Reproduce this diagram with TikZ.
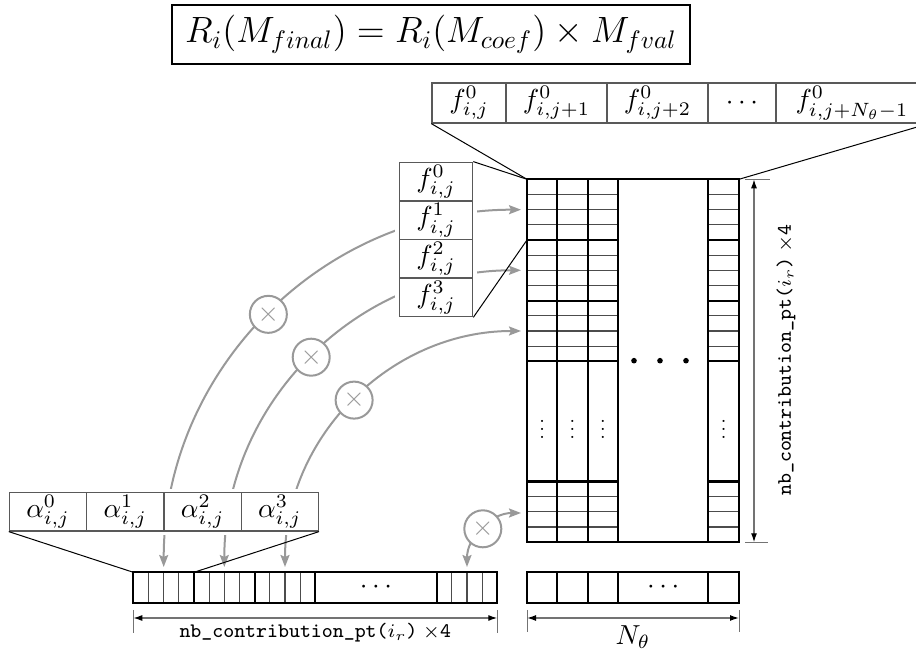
\documentclass[tikz,border=0pt]{standalone}
\usepackage{graphicx}
\usetikzlibrary{arrows.meta,calc}
\newcommand{\bigt}[1]{\scalebox{2.75}{#1}}
\newcommand{\labtext}{\scalebox{2.75}{\fontsize{7.5}{9}\selectfont\ttfamily nb\_contribution\_pt(\rmfamily$i_r$\ttfamily)\hspace{2pt}$\times$4}}
\begin{document}
\begin{tikzpicture}[x=1pt,y=1pt,
  cellbox/.style={draw=black!65, line width=1.3pt, inner sep=0pt},
  thickline/.style={line width=2.2pt, black},
  thinline/.style={line width=1.2pt, black!70},
  funnel/.style={line width=1pt, black},
  arcarrow/.style={line width=2pt, black!40, {Stealth[length=12pt,width=9pt,inset=2pt]}-{Stealth[length=12pt,width=9pt,inset=2pt]}},
  otimes/.style={circle, draw=black!40, line width=2pt, fill=white, minimum size=37pt, inner sep=0pt, text=black!40},
  dimarrow/.style={line width=1.3pt, black!55, {Latex[length=9pt,width=6pt,black]}-{Latex[length=9pt,width=6pt,black]}},
  dimtick/.style={line width=1pt, black!55}
]
\useasboundingbox (0,0) rectangle (916,652);

% ---------- gray arcs (drawn first, boxes cover them) ----------
\coordinate (ac) at (521,85);
\coordinate (s1) at (163.7,85);
\coordinate (s2) at (224.3,85);
\coordinate (s3) at (285,85);
\coordinate (s4) at (467,85);
\draw[arcarrow] (s1) arc[start angle=180, end angle=90, radius=357.3pt];
\draw[arcarrow] (s2) arc[start angle=180, end angle=90, radius=296.7pt];
\draw[arcarrow] (s3) arc[start angle=180, end angle=90, radius=236pt];
\draw[arcarrow] (s4) arc[start angle=180, end angle=90, radius=54pt];

% ---------- alpha box ----------
\fill[white] (5.3,163.3) rectangle (322.3,117);
\node[cellbox, minimum width=77.25pt, minimum height=38.3pt] (a0) at (48,140.2) {\bigt{$\alpha^{0}_{i,j}$}};
\node[cellbox, minimum width=77.25pt, minimum height=38.3pt] (a1) at (125.3,140.2) {\bigt{$\alpha^{1}_{i,j}$}};
\node[cellbox, minimum width=77.25pt, minimum height=38.3pt] (a2) at (202.6,140.2) {\bigt{$\alpha^{2}_{i,j}$}};
\node[cellbox, minimum width=77.25pt, minimum height=38.3pt] (a3) at (279.8,140.2) {\bigt{$\alpha^{3}_{i,j}$}};

% ---------- f column ----------
\fill[white] (395.3,493.7) rectangle (476.7,331.3);
\node[cellbox, minimum width=73.4pt, minimum height=38.6pt] (f0) at (436,470.4) {\bigt{$f^{0}_{i,j}$}};
\node[cellbox, minimum width=73.4pt, minimum height=38.6pt] (f1) at (436,431.8) {\bigt{$f^{1}_{i,j}$}};
\node[cellbox, minimum width=73.4pt, minimum height=38.6pt] (f2) at (436,393.2) {\bigt{$f^{2}_{i,j}$}};
\node[cellbox, minimum width=73.4pt, minimum height=38.6pt] (f3) at (436,354.6) {\bigt{$f^{3}_{i,j}$}};

% ---------- multiplication circles ----------
\node[otimes] (x1) at ($(ac)+(135:357.3pt)$) {\bigt{$\times$}};
\node[otimes] (x2) at ($(ac)+(135:296.7pt)$) {\bigt{$\times$}};
\node[otimes] (x3) at ($(ac)+(135:236pt)$) {\bigt{$\times$}};
\node[otimes] (x4) at ($(ac)+(135:54pt)$) {\bigt{$\times$}};

% ---------- formula ----------
\node[draw, line width=1.4pt, inner sep=0pt, minimum width=518pt, minimum height=59pt] (eq) at (431,617.5)
  {\scalebox{2.54}{\Large $R_i(M_{final}) = R_i(M_{coef}) \times M_{fval}$}};

% ---------- top row ----------
\node[cellbox, minimum width=74pt, minimum height=40pt] (t1) at (469,549) {\bigt{$f^{0}_{i,j}$}};
\node[cellbox, minimum width=101pt, minimum height=40pt] (t2) at (556.5,549) {\bigt{$f^{0}_{i,j+1}$}};
\node[cellbox, minimum width=101pt, minimum height=40pt] (t3) at (657.5,549) {\bigt{$f^{0}_{i,j+2}$}};
\node[cellbox, minimum width=68pt, minimum height=40pt] (t4) at (742,549) {\bigt{$\cdots$}};
\node[cellbox, minimum width=152pt, minimum height=40pt] (t5) at (852,549) {\bigt{$f^{0}_{i,j+N_\theta-1}$}};

% ---------- matrix ----------
\coordinate (mtl) at (527,472.7);
\coordinate (mtr) at (739,472.7);
\coordinate (mb1) at (527,412);
\foreach \yy in {457.5,442.4,427.2, 396.8,381.7,366.5, 336.1,321.0,305.8, 155.2,140.1,124.9}{
  \draw[thinline] (527,\yy) -- (618,\yy);
  \draw[thinline] (708.3,\yy) -- (739,\yy);
}
\foreach \yy in {412,351.3,290.6,170.4}{
  \draw[thickline] (527,\yy) -- (618,\yy);
  \draw[thickline] (708.3,\yy) -- (739,\yy);
}
\foreach \xx in {557.3,587.7,618,708.3}{
  \draw[thickline] (\xx,109.7) -- (\xx,472.7);
}
\draw[thickline] (mtl) rectangle (739,109.7);
\fill (634,291.3) circle (2.8pt) (660,291.3) circle (2.8pt) (686,291.3) circle (2.8pt);
\foreach \xx/\nm in {542.2/d1,572.5/d2,602.9/d3,723.7/d4}{
  \node[inner sep=0pt] (\nm) at (\xx,229) {\scalebox{2.0}{$\vdots$}};
}

% ---------- funnel lines ----------
\draw[funnel] (t1.south west) -- (mtl);
\draw[funnel] (t5.south east) -- (mtr);
\draw[funnel] (f0.north east) -- (mtl);
\draw[funnel] (f3.south east) -- (mb1);
\coordinate (vl) at (133.3,79.7);
\coordinate (vg) at (194,79.7);
\draw[funnel] (a0.south west) -- (vl);
\draw[funnel] (a3.south east) -- (vg);

% ---------- bottom vector ----------
\foreach \g in {133.3,194,254.7,436.7}{
  \foreach \k in {15.17,30.33,45.5}{
    \draw[thinline] (\g+\k,49.3) -- (\g+\k,79.7);
  }
}
\foreach \xx in {194,254.7,315.3,436.7}{
  \draw[thickline] (\xx,49.3) -- (\xx,79.7);
}
\draw[thickline] (vl) rectangle (497.3,49.3);
\node (vdots1) at (376,64.5) {\bigt{$\cdots$}};

% ---------- N theta vector ----------
\foreach \xx in {557.3,587.7,618,708.3}{
  \draw[thickline] (\xx,49.3) -- (\xx,79.7);
}
\draw[thickline] (527,79.7) rectangle (739,49.3);
\node (vdots2) at (663.2,64.5) {\bigt{$\cdots$}};

% ---------- dimensions ----------
\coordinate (h1a) at (133.3,34);
\coordinate (h1b) at (497.3,34);
\draw[dimtick] (133.3,42) -- (133.3,19);
\draw[dimtick] (497.3,42) -- (497.3,19);
\draw[dimarrow] (h1a) -- (h1b);
\node[inner sep=0pt] (lab1) at (315.3,19.5) {\labtext};

\coordinate (h2a) at (527,34);
\coordinate (h2b) at (739,34);
\draw[dimtick] (527,42) -- (527,20);
\draw[dimtick] (739,42) -- (739,20);
\draw[dimarrow] (h2a) -- (h2b);
\node[inner sep=0pt] (lab2) at (633,15) {\bigt{$N_\theta$}};

\coordinate (v1a) at (754,472.7);
\coordinate (v1b) at (754,109.7);
\draw[dimtick] (745,472.7) -- (770,472.7);
\draw[dimtick] (745,109.7) -- (768,109.7);
\draw[dimarrow] (v1a) -- (v1b);
\node[inner sep=0pt, rotate=90] (lab3) at (786,292) {\labtext};
\end{tikzpicture}
\end{document}
